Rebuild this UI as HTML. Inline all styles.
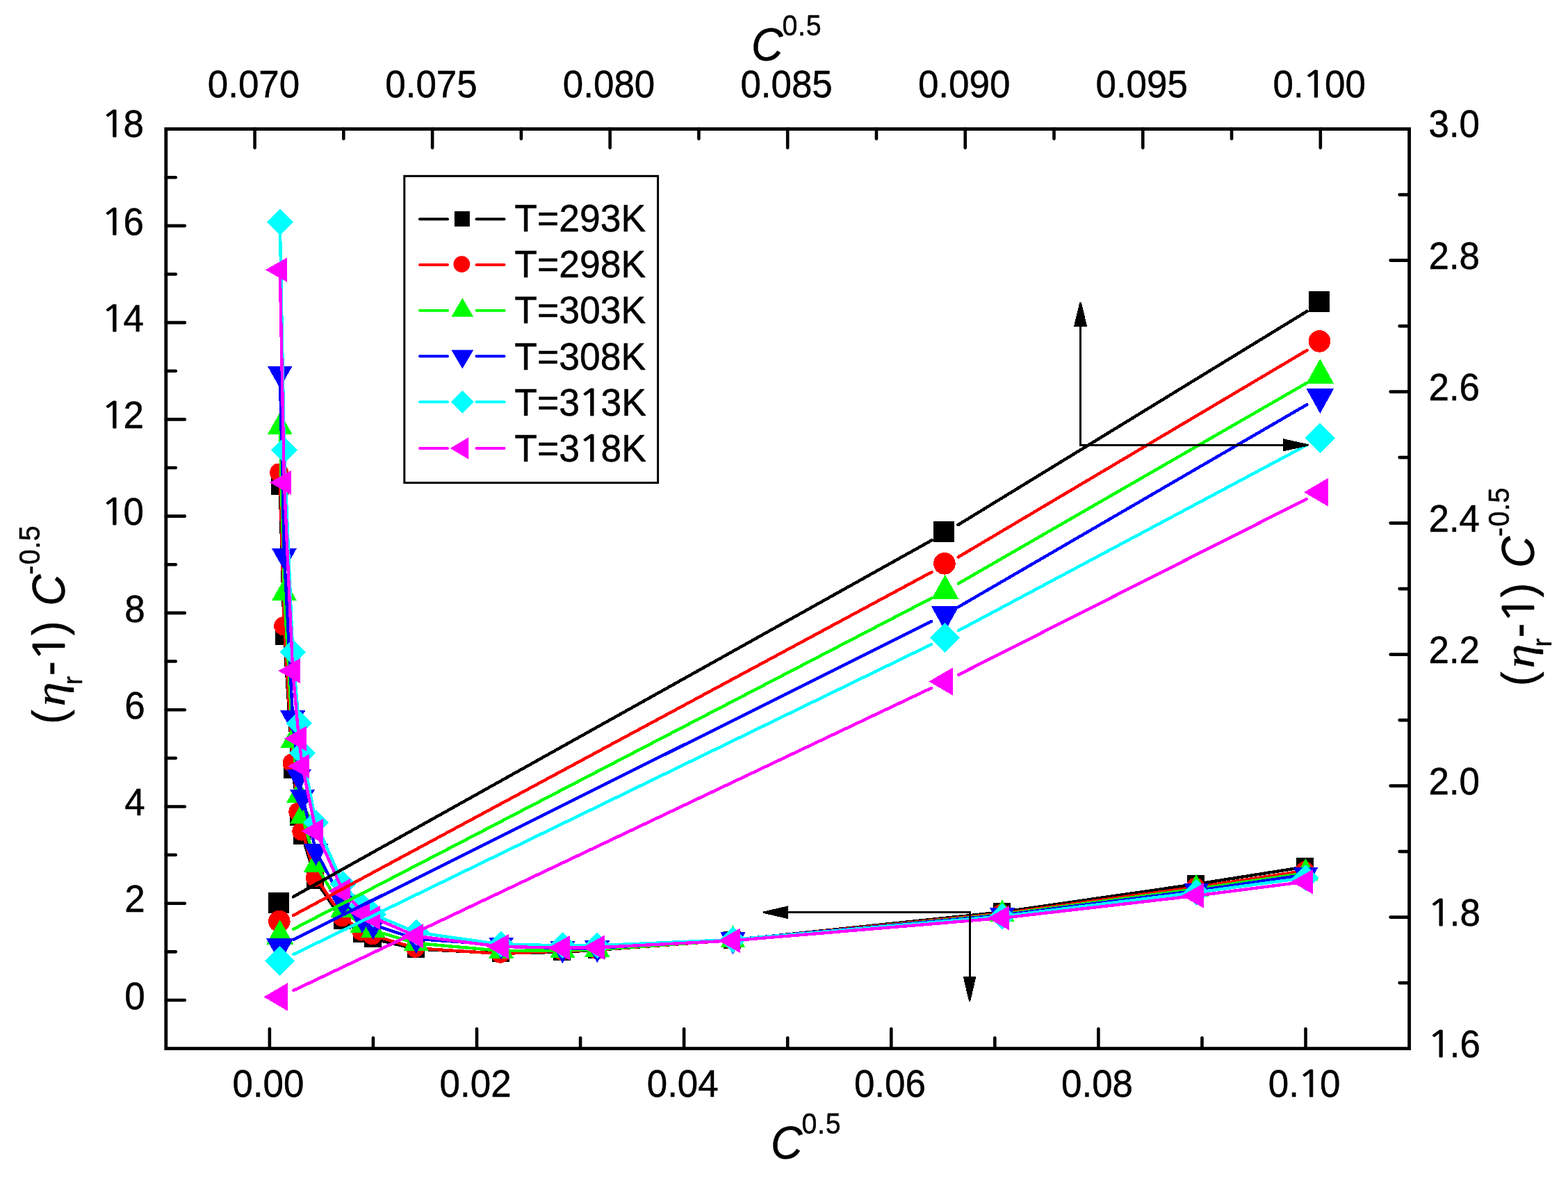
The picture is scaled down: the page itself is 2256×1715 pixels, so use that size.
<!DOCTYPE html>
<html lang="en"><head><meta charset="utf-8"><title>Reduced viscosity vs concentration</title>
<style>html,body{margin:0;padding:0;background:#fff}body{width:2256px;height:1715px;overflow:hidden}svg{display:block}text{font-family:"Liberation Sans",Arial,sans-serif;fill:#000;stroke:#000;stroke-width:.5px;stroke-linejoin:round}.tk{font-size:56px}.ti{font-size:67.3px}.su{font-size:42px;letter-spacing:.7px}.lg{font-size:56px}.o{font-family:"NanumGothic","Liberation Sans",sans-serif;font-size:.915em;stroke:#000;stroke-width:.9px}.sb{font-size:39px}.et{font-family:"Liberation Serif","DejaVu Serif",serif;font-style:italic;font-size:61px}</style></head><body>
<svg width="2256" height="1715" viewBox="0 0 2256 1715" role="img" aria-label="Reduced viscosity plot">
<rect x="0" y="0" width="2256" height="1715" fill="#fff"/>
<g id="layer1" stroke-linejoin="round" stroke-linecap="round" shape-rendering="crispEdges">
<polyline fill="none" stroke="#000000" stroke-width="4.4" points="402.77,700.2 408.95,915.83 421.2,1108.1 430.03,1176.3 435.01,1202.7 454.53,1267.3 493.27,1324.4 521.2,1343.5 536.93,1350.8 598.68,1365.4 721.19,1371.6 809.49,1369.8 859.26,1366.8 1054.51,1352.63 1441.93,1312.26 1721.16,1272 1878.53,1247.2"/>
<rect x="389.67" y="687.3" width="25" height="25" fill="#000000"/>
<rect x="395.85" y="902.93" width="25" height="25" fill="#000000"/>
<rect x="408.1" y="1095.2" width="25" height="25" fill="#000000"/>
<rect x="416.93" y="1163.4" width="25" height="25" fill="#000000"/>
<rect x="421.91" y="1189.8" width="25" height="25" fill="#000000"/>
<rect x="441.43" y="1254.4" width="25" height="25" fill="#000000"/>
<rect x="480.17" y="1311.5" width="25" height="25" fill="#000000"/>
<rect x="508.1" y="1330.6" width="25" height="25" fill="#000000"/>
<rect x="523.83" y="1337.9" width="25" height="25" fill="#000000"/>
<rect x="585.58" y="1352.5" width="25" height="25" fill="#000000"/>
<rect x="708.09" y="1358.7" width="25" height="25" fill="#000000"/>
<rect x="796.39" y="1356.9" width="25" height="25" fill="#000000"/>
<rect x="846.16" y="1353.9" width="25" height="25" fill="#000000"/>
<rect x="1041.41" y="1339.73" width="25" height="25" fill="#000000"/>
<rect x="1428.83" y="1299.36" width="25" height="25" fill="#000000"/>
<rect x="1708.06" y="1259.1" width="25" height="25" fill="#000000"/>
<rect x="1865.43" y="1234.3" width="25" height="25" fill="#000000"/>
<polyline fill="none" stroke="#ff0000" stroke-width="4.4" points="402.77,680 408.95,900.81 421.2,1097.8 430.03,1168 435.01,1196.1 454.53,1262.7 493.27,1319.8 521.2,1340.1 536.93,1346 598.68,1364.2 721.19,1372.2 809.49,1368.3 859.26,1366.5 1054.51,1352.63 1441.93,1314.21 1721.16,1276.28 1878.53,1252.71"/>
<circle cx="401.57" cy="680" r="13.5" fill="#ff0000"/>
<circle cx="407.75" cy="900.81" r="13.5" fill="#ff0000"/>
<circle cx="420" cy="1097.8" r="13.5" fill="#ff0000"/>
<circle cx="428.83" cy="1168" r="13.5" fill="#ff0000"/>
<circle cx="433.81" cy="1196.1" r="13.5" fill="#ff0000"/>
<circle cx="453.33" cy="1262.7" r="13.5" fill="#ff0000"/>
<circle cx="492.07" cy="1319.8" r="13.5" fill="#ff0000"/>
<circle cx="520" cy="1340.1" r="13.5" fill="#ff0000"/>
<circle cx="535.73" cy="1346" r="13.5" fill="#ff0000"/>
<circle cx="597.48" cy="1364.2" r="13.5" fill="#ff0000"/>
<circle cx="719.99" cy="1372.2" r="13.5" fill="#ff0000"/>
<circle cx="808.29" cy="1368.3" r="13.5" fill="#ff0000"/>
<circle cx="858.06" cy="1366.5" r="13.5" fill="#ff0000"/>
<circle cx="1053.31" cy="1352.63" r="13.5" fill="#ff0000"/>
<circle cx="1440.73" cy="1314.21" r="13.5" fill="#ff0000"/>
<circle cx="1719.96" cy="1276.28" r="13.5" fill="#ff0000"/>
<circle cx="1877.33" cy="1252.71" r="13.5" fill="#ff0000"/>
<polyline fill="none" stroke="#00ff00" stroke-width="4.4" points="402.77,614.5 408.95,853.4 421.2,1065.8 430.03,1144.12 435.01,1174.53 454.53,1244.4 493.27,1309.3 521.2,1331.8 536.93,1338.8 598.68,1357 721.19,1368 809.49,1367.25 859.26,1365.99 1054.51,1352.63 1441.93,1315.64 1721.16,1279.07 1878.53,1256.19"/>
<polygon points="402.77,593.17 420.77,625.17 384.77,625.17" fill="#00ff00"/>
<polygon points="408.95,832.07 426.95,864.07 390.95,864.07" fill="#00ff00"/>
<polygon points="421.2,1044.47 439.2,1076.47 403.2,1076.47" fill="#00ff00"/>
<polygon points="430.03,1122.79 448.03,1154.79 412.03,1154.79" fill="#00ff00"/>
<polygon points="435.01,1153.2 453.01,1185.2 417.01,1185.2" fill="#00ff00"/>
<polygon points="454.53,1223.06 472.53,1255.06 436.53,1255.06" fill="#00ff00"/>
<polygon points="493.27,1287.97 511.27,1319.97 475.27,1319.97" fill="#00ff00"/>
<polygon points="521.2,1310.47 539.2,1342.47 503.2,1342.47" fill="#00ff00"/>
<polygon points="536.93,1317.47 554.93,1349.47 518.93,1349.47" fill="#00ff00"/>
<polygon points="598.68,1335.66 616.68,1367.66 580.68,1367.66" fill="#00ff00"/>
<polygon points="721.19,1346.67 739.19,1378.67 703.19,1378.67" fill="#00ff00"/>
<polygon points="809.49,1345.91 827.49,1377.91 791.49,1377.91" fill="#00ff00"/>
<polygon points="859.26,1344.66 877.26,1376.66 841.26,1376.66" fill="#00ff00"/>
<polygon points="1054.51,1331.29 1072.51,1363.29 1036.51,1363.29" fill="#00ff00"/>
<polygon points="1441.93,1294.31 1459.93,1326.31 1423.93,1326.31" fill="#00ff00"/>
<polygon points="1721.16,1257.73 1739.16,1289.73 1703.16,1289.73" fill="#00ff00"/>
<polygon points="1878.53,1234.85 1896.53,1266.85 1860.53,1266.85" fill="#00ff00"/>
<polyline fill="none" stroke="#0000ff" stroke-width="4.4" points="402.77,537.24 408.95,799.6 421.2,1033 430.03,1117.39 435.01,1146.6 454.53,1224.4 493.27,1297.7 521.2,1321.5 536.93,1330.5 598.68,1350.8 721.19,1359.4 809.49,1364.95 859.26,1364.04 1054.51,1351.93 1441.93,1316.74 1721.16,1281.56 1878.53,1258.48"/>
<polygon points="402.77,558.57 420.77,526.57 384.77,526.57" fill="#0000ff"/>
<polygon points="408.95,820.93 426.95,788.93 390.95,788.93" fill="#0000ff"/>
<polygon points="421.2,1054.34 439.2,1022.34 403.2,1022.34" fill="#0000ff"/>
<polygon points="430.03,1138.72 448.03,1106.72 412.03,1106.72" fill="#0000ff"/>
<polygon points="435.01,1167.93 453.01,1135.93 417.01,1135.93" fill="#0000ff"/>
<polygon points="454.53,1245.73 472.53,1213.73 436.53,1213.73" fill="#0000ff"/>
<polygon points="493.27,1319.03 511.27,1287.03 475.27,1287.03" fill="#0000ff"/>
<polygon points="521.2,1342.83 539.2,1310.83 503.2,1310.83" fill="#0000ff"/>
<polygon points="536.93,1351.84 554.93,1319.84 518.93,1319.84" fill="#0000ff"/>
<polygon points="598.68,1372.13 616.68,1340.13 580.68,1340.13" fill="#0000ff"/>
<polygon points="721.19,1380.73 739.19,1348.73 703.19,1348.73" fill="#0000ff"/>
<polygon points="809.49,1386.28 827.49,1354.28 791.49,1354.28" fill="#0000ff"/>
<polygon points="859.26,1385.38 877.26,1353.38 841.26,1353.38" fill="#0000ff"/>
<polygon points="1054.51,1373.26 1072.51,1341.26 1036.51,1341.26" fill="#0000ff"/>
<polygon points="1441.93,1338.07 1459.93,1306.07 1423.93,1306.07" fill="#0000ff"/>
<polygon points="1721.16,1302.89 1739.16,1270.89 1703.16,1270.89" fill="#0000ff"/>
<polygon points="1878.53,1279.82 1896.53,1247.82 1860.53,1247.82" fill="#0000ff"/>
<polyline fill="none" stroke="#00ffff" stroke-width="4.4" points="402.77,319.43 408.95,647.34 421.2,938.3 430.03,1040.89 435.01,1083.5 454.53,1183.5 493.27,1271.9 521.2,1303.7 536.93,1315.34 598.68,1341.48 721.19,1358.68 809.49,1360.28 859.26,1360.28 1054.51,1352 1441.93,1318.28 1721.16,1284 1878.53,1262.84"/>
<polygon points="402.77,300.53 421.67,319.43 402.77,338.33 383.87,319.43" fill="#00ffff"/>
<polygon points="408.95,628.44 427.85,647.34 408.95,666.24 390.05,647.34" fill="#00ffff"/>
<polygon points="421.2,919.4 440.1,938.3 421.2,957.2 402.3,938.3" fill="#00ffff"/>
<polygon points="430.03,1021.99 448.93,1040.89 430.03,1059.79 411.13,1040.89" fill="#00ffff"/>
<polygon points="435.01,1064.6 453.91,1083.5 435.01,1102.4 416.11,1083.5" fill="#00ffff"/>
<polygon points="454.53,1164.6 473.43,1183.5 454.53,1202.4 435.63,1183.5" fill="#00ffff"/>
<polygon points="493.27,1253 512.17,1271.9 493.27,1290.8 474.37,1271.9" fill="#00ffff"/>
<polygon points="521.2,1284.8 540.1,1303.7 521.2,1322.6 502.3,1303.7" fill="#00ffff"/>
<polygon points="536.93,1296.44 555.83,1315.34 536.93,1334.24 518.03,1315.34" fill="#00ffff"/>
<polygon points="598.68,1322.58 617.58,1341.48 598.68,1360.38 579.78,1341.48" fill="#00ffff"/>
<polygon points="721.19,1339.78 740.09,1358.68 721.19,1377.58 702.29,1358.68" fill="#00ffff"/>
<polygon points="809.49,1341.38 828.39,1360.28 809.49,1379.18 790.59,1360.28" fill="#00ffff"/>
<polygon points="859.26,1341.38 878.16,1360.28 859.26,1379.18 840.36,1360.28" fill="#00ffff"/>
<polygon points="1054.51,1333.1 1073.41,1352 1054.51,1370.9 1035.61,1352" fill="#00ffff"/>
<polygon points="1441.93,1299.38 1460.83,1318.28 1441.93,1337.18 1423.03,1318.28" fill="#00ffff"/>
<polygon points="1721.16,1265.1 1740.06,1284 1721.16,1302.9 1702.26,1284" fill="#00ffff"/>
<polygon points="1878.53,1243.94 1897.43,1262.84 1878.53,1281.74 1859.63,1262.84" fill="#00ffff"/>
<polyline fill="none" stroke="#ff00ff" stroke-width="4.4" points="402.77,388.23 408.95,694.3 421.2,965.2 430.03,1062.7 435.01,1102.4 454.53,1195.8 493.27,1282 521.2,1311.67 536.93,1320.3 598.68,1346.85 721.19,1361.96 809.49,1363.7 859.26,1363.28 1054.51,1353.3 1441.93,1320.8 1721.16,1288.65 1878.53,1268.58"/>
<polygon points="381.84,388.23 413.24,370.43 413.24,406.03" fill="#ff00ff"/>
<polygon points="388.01,694.3 419.41,676.5 419.41,712.1" fill="#ff00ff"/>
<polygon points="400.27,965.2 431.67,947.4 431.67,983" fill="#ff00ff"/>
<polygon points="409.1,1062.7 440.5,1044.9 440.5,1080.5" fill="#ff00ff"/>
<polygon points="414.07,1102.4 445.47,1084.6 445.47,1120.2" fill="#ff00ff"/>
<polygon points="433.6,1195.8 465,1178 465,1213.6" fill="#ff00ff"/>
<polygon points="472.34,1282 503.74,1264.2 503.74,1299.8" fill="#ff00ff"/>
<polygon points="500.26,1311.67 531.66,1293.87 531.66,1329.47" fill="#ff00ff"/>
<polygon points="516,1320.3 547.4,1302.5 547.4,1338.1" fill="#ff00ff"/>
<polygon points="577.75,1346.85 609.15,1329.05 609.15,1364.65" fill="#ff00ff"/>
<polygon points="700.26,1361.96 731.66,1344.16 731.66,1379.76" fill="#ff00ff"/>
<polygon points="788.56,1363.7 819.96,1345.9 819.96,1381.5" fill="#ff00ff"/>
<polygon points="838.32,1363.28 869.72,1345.48 869.72,1381.08" fill="#ff00ff"/>
<polygon points="1033.58,1353.3 1064.98,1335.5 1064.98,1371.1" fill="#ff00ff"/>
<polygon points="1420.99,1320.8 1452.39,1303 1452.39,1338.6" fill="#ff00ff"/>
<polygon points="1700.23,1288.65 1731.63,1270.85 1731.63,1306.45" fill="#ff00ff"/>
<polygon points="1857.6,1268.58 1889,1250.78 1889,1286.38" fill="#ff00ff"/>
</g>
<g id="layer2" stroke-linecap="round" shape-rendering="crispEdges">
<line x1="421.91" y1="1290.26" x2="1340.59" y2="777.31" stroke="#000000" stroke-width="4.5"/>
<line x1="1378.56" y1="755.1" x2="1880.54" y2="447.8" stroke="#000000" stroke-width="4.5"/>
<rect x="386.2" y="1284.08" width="30" height="30" fill="#000000"/>
<rect x="1343.3" y="749.69" width="30" height="30" fill="#000000"/>
<rect x="1882.8" y="419.41" width="30" height="30" fill="#000000"/>
<line x1="422.08" y1="1317.02" x2="1340.42" y2="823.12" stroke="#ff0000" stroke-width="4.5"/>
<line x1="1378.72" y1="801.48" x2="1880.38" y2="504.04" stroke="#ff0000" stroke-width="4.5"/>
<circle cx="401.8" cy="1325.54" r="15.8" fill="#ff0000"/>
<circle cx="1358.9" cy="810.8" r="15.8" fill="#ff0000"/>
<circle cx="1898.4" cy="490.92" r="15.8" fill="#ff0000"/>
<line x1="422.23" y1="1336.78" x2="1340.27" y2="860.63" stroke="#00ff00" stroke-width="4.5"/>
<line x1="1378.87" y1="839.53" x2="1880.23" y2="550.95" stroke="#00ff00" stroke-width="4.5"/>
<polygon points="402.7,1323.18 422.5,1358.78 382.9,1358.78" fill="#00ff00"/>
<polygon points="1359.8,826.77 1379.6,862.37 1340,862.37" fill="#00ff00"/>
<polygon points="1899.3,516.24 1919.1,551.84 1879.5,551.84" fill="#00ff00"/>
<line x1="422.39" y1="1351.93" x2="1340.11" y2="894.15" stroke="#0000ff" stroke-width="4.5"/>
<line x1="1378.83" y1="873.29" x2="1880.27" y2="582.2" stroke="#0000ff" stroke-width="4.5"/>
<polygon points="402.7,1385.48 422.5,1349.88 382.9,1349.88" fill="#0000ff"/>
<polygon points="1359.8,908.07 1379.6,872.47 1340,872.47" fill="#0000ff"/>
<polygon points="1899.3,594.89 1919.1,559.29 1879.5,559.29" fill="#0000ff"/>
<line x1="422.49" y1="1373.02" x2="1340.01" y2="927.12" stroke="#00ffff" stroke-width="4.5"/>
<line x1="1379.22" y1="907.16" x2="1879.88" y2="640.56" stroke="#00ffff" stroke-width="4.5"/>
<polygon points="402.7,1361.03 424.3,1382.63 402.7,1404.23 381.1,1382.63" fill="#00ffff"/>
<polygon points="1359.8,895.9 1381.4,917.5 1359.8,939.1 1338.2,917.5" fill="#00ffff"/>
<polygon points="1899.3,608.62 1920.9,630.22 1899.3,651.82 1877.7,630.22" fill="#00ffff"/>
<line x1="422.58" y1="1424.9" x2="1339.92" y2="989.96" stroke="#ff00ff" stroke-width="4.5"/>
<line x1="1379.44" y1="970.62" x2="1879.66" y2="718.1" stroke="#ff00ff" stroke-width="4.5"/>
<polygon points="379.37,1434.32 414.37,1413.87 414.37,1454.77" fill="#ff00ff"/>
<polygon points="1336.47,980.53 1371.47,960.08 1371.47,1000.98" fill="#ff00ff"/>
<polygon points="1875.97,708.18 1910.97,687.73 1910.97,728.63" fill="#ff00ff"/>
</g>
<g id="arrows" stroke="#000" stroke-width="3" fill="#000" shape-rendering="crispEdges">
<polyline fill="none" points="1554.6,466 1554.6,640.3 1850,640.3"/>
<polygon stroke="none" points="1553.4,434.6 1555.8,434.6 1564.2,469.8 1545,469.8"/>
<polygon stroke="none" points="1883,639.3 1883,641.3 1845.5,649.6 1845.5,631"/>
<polyline fill="none" points="1130,1312.7 1395.1,1312.7 1395.1,1408"/>
<polygon stroke="none" points="1097.5,1311.7 1097.5,1313.7 1133.6,1322 1133.6,1303.4"/>
<polygon stroke="none" points="1394.1,1441 1396.1,1441 1404.5,1404.8 1385.7,1404.8"/>
</g>
<g id="axes" stroke="#000" fill="none">
<rect x="238.8" y="185.6" width="1788.8" height="1323" stroke-width="4.8"/>
<g stroke-width="4.6" stroke-linecap="round">
<line x1="387.87" y1="1508.6" x2="387.87" y2="1480.3"/>
<line x1="536.93" y1="1508.6" x2="536.93" y2="1493.3"/>
<line x1="686" y1="1508.6" x2="686" y2="1480.3"/>
<line x1="835.07" y1="1508.6" x2="835.07" y2="1493.3"/>
<line x1="984.13" y1="1508.6" x2="984.13" y2="1480.3"/>
<line x1="1133.2" y1="1508.6" x2="1133.2" y2="1493.3"/>
<line x1="1282.27" y1="1508.6" x2="1282.27" y2="1480.3"/>
<line x1="1431.33" y1="1508.6" x2="1431.33" y2="1493.3"/>
<line x1="1580.4" y1="1508.6" x2="1580.4" y2="1480.3"/>
<line x1="1729.47" y1="1508.6" x2="1729.47" y2="1493.3"/>
<line x1="1878.53" y1="1508.6" x2="1878.53" y2="1480.3"/>
<line x1="366.57" y1="185.6" x2="366.57" y2="212.6"/>
<line x1="494.34" y1="185.6" x2="494.34" y2="199.6"/>
<line x1="622.11" y1="185.6" x2="622.11" y2="212.6"/>
<line x1="749.89" y1="185.6" x2="749.89" y2="199.6"/>
<line x1="877.66" y1="185.6" x2="877.66" y2="212.6"/>
<line x1="1005.43" y1="185.6" x2="1005.43" y2="199.6"/>
<line x1="1133.2" y1="185.6" x2="1133.2" y2="212.6"/>
<line x1="1260.97" y1="185.6" x2="1260.97" y2="199.6"/>
<line x1="1388.74" y1="185.6" x2="1388.74" y2="212.6"/>
<line x1="1516.51" y1="185.6" x2="1516.51" y2="199.6"/>
<line x1="1644.29" y1="185.6" x2="1644.29" y2="212.6"/>
<line x1="1772.06" y1="185.6" x2="1772.06" y2="199.6"/>
<line x1="1899.83" y1="185.6" x2="1899.83" y2="212.6"/>
<line x1="238.8" y1="1438.97" x2="265.8" y2="1438.97"/>
<line x1="238.8" y1="1369.34" x2="252.8" y2="1369.34"/>
<line x1="238.8" y1="1299.71" x2="265.8" y2="1299.71"/>
<line x1="238.8" y1="1230.07" x2="252.8" y2="1230.07"/>
<line x1="238.8" y1="1160.44" x2="265.8" y2="1160.44"/>
<line x1="238.8" y1="1090.81" x2="252.8" y2="1090.81"/>
<line x1="238.8" y1="1021.18" x2="265.8" y2="1021.18"/>
<line x1="238.8" y1="951.55" x2="252.8" y2="951.55"/>
<line x1="238.8" y1="881.92" x2="265.8" y2="881.92"/>
<line x1="238.8" y1="812.28" x2="252.8" y2="812.28"/>
<line x1="238.8" y1="742.65" x2="265.8" y2="742.65"/>
<line x1="238.8" y1="673.02" x2="252.8" y2="673.02"/>
<line x1="238.8" y1="603.39" x2="265.8" y2="603.39"/>
<line x1="238.8" y1="533.76" x2="252.8" y2="533.76"/>
<line x1="238.8" y1="464.13" x2="265.8" y2="464.13"/>
<line x1="238.8" y1="394.49" x2="252.8" y2="394.49"/>
<line x1="238.8" y1="324.86" x2="265.8" y2="324.86"/>
<line x1="238.8" y1="255.23" x2="252.8" y2="255.23"/>
<line x1="2027.6" y1="1414.1" x2="2013.6" y2="1414.1"/>
<line x1="2027.6" y1="1319.6" x2="2000.6" y2="1319.6"/>
<line x1="2027.6" y1="1225.1" x2="2013.6" y2="1225.1"/>
<line x1="2027.6" y1="1130.6" x2="2000.6" y2="1130.6"/>
<line x1="2027.6" y1="1036.1" x2="2013.6" y2="1036.1"/>
<line x1="2027.6" y1="941.6" x2="2000.6" y2="941.6"/>
<line x1="2027.6" y1="847.1" x2="2013.6" y2="847.1"/>
<line x1="2027.6" y1="752.6" x2="2000.6" y2="752.6"/>
<line x1="2027.6" y1="658.1" x2="2013.6" y2="658.1"/>
<line x1="2027.6" y1="563.6" x2="2000.6" y2="563.6"/>
<line x1="2027.6" y1="469.1" x2="2013.6" y2="469.1"/>
<line x1="2027.6" y1="374.6" x2="2000.6" y2="374.6"/>
<line x1="2027.6" y1="280.1" x2="2013.6" y2="280.1"/>
</g></g>
<g id="ticklabels" class="tk">
<text transform="translate(385.97,1577.5) scale(0.945,1)" text-anchor="middle">0.00</text>
<text transform="translate(684.1,1577.5) scale(0.945,1)" text-anchor="middle">0.02</text>
<text transform="translate(982.23,1577.5) scale(0.945,1)" text-anchor="middle">0.04</text>
<text transform="translate(1280.37,1577.5) scale(0.945,1)" text-anchor="middle">0.06</text>
<text transform="translate(1578.5,1577.5) scale(0.945,1)" text-anchor="middle">0.08</text>
<text transform="translate(1876.63,1577.5) scale(0.945,1)" text-anchor="middle">0.<tspan class="o" dx="-2.9" textLength="39.1" lengthAdjust="spacingAndGlyphs">1</tspan><tspan dx="-4.2">0</tspan></text>
<text transform="translate(364.97,140.4) scale(0.945,1)" text-anchor="middle">0.070</text>
<text transform="translate(620.51,140.4) scale(0.945,1)" text-anchor="middle">0.075</text>
<text transform="translate(876.06,140.4) scale(0.945,1)" text-anchor="middle">0.080</text>
<text transform="translate(1131.6,140.4) scale(0.945,1)" text-anchor="middle">0.085</text>
<text transform="translate(1387.14,140.4) scale(0.945,1)" text-anchor="middle">0.090</text>
<text transform="translate(1642.69,140.4) scale(0.945,1)" text-anchor="middle">0.095</text>
<text transform="translate(1898.23,140.4) scale(0.945,1)" text-anchor="middle">0.<tspan class="o" dx="-2.9" textLength="39.1" lengthAdjust="spacingAndGlyphs">1</tspan><tspan dx="-4.2">0</tspan>0</text>
<text transform="translate(208.6,1451.67) scale(0.945,1)" text-anchor="end">0</text>
<text transform="translate(208.6,1312.41) scale(0.945,1)" text-anchor="end">2</text>
<text transform="translate(208.6,1173.14) scale(0.945,1)" text-anchor="end">4</text>
<text transform="translate(208.6,1033.88) scale(0.945,1)" text-anchor="end">6</text>
<text transform="translate(208.6,894.62) scale(0.945,1)" text-anchor="end">8</text>
<text transform="translate(147.3,755.35) scale(0.945,1)"><tspan class="o" dx="-2.9" textLength="39.1" lengthAdjust="spacingAndGlyphs">1</tspan><tspan dx="-4.2">0</tspan></text>
<text transform="translate(147.3,616.09) scale(0.945,1)"><tspan class="o" dx="-2.9" textLength="39.1" lengthAdjust="spacingAndGlyphs">1</tspan><tspan dx="-4.2">2</tspan></text>
<text transform="translate(147.3,476.83) scale(0.945,1)"><tspan class="o" dx="-2.9" textLength="39.1" lengthAdjust="spacingAndGlyphs">1</tspan><tspan dx="-4.2">4</tspan></text>
<text transform="translate(147.3,337.56) scale(0.945,1)"><tspan class="o" dx="-2.9" textLength="39.1" lengthAdjust="spacingAndGlyphs">1</tspan><tspan dx="-4.2">6</tspan></text>
<text transform="translate(147.3,196.5) scale(0.945,1)"><tspan class="o" dx="-2.9" textLength="39.1" lengthAdjust="spacingAndGlyphs">1</tspan><tspan dx="-4.2">8</tspan></text>
<text transform="translate(2055.5,1521.3) scale(0.945,1)"><tspan class="o" dx="-2.9" textLength="39.1" lengthAdjust="spacingAndGlyphs">1</tspan><tspan dx="-4.2">.</tspan>6</text>
<text transform="translate(2055.5,1332.3) scale(0.945,1)"><tspan class="o" dx="-2.9" textLength="39.1" lengthAdjust="spacingAndGlyphs">1</tspan><tspan dx="-4.2">.</tspan>8</text>
<text transform="translate(2055.5,1143.3) scale(0.945,1)">2.0</text>
<text transform="translate(2055.5,954.3) scale(0.945,1)">2.2</text>
<text transform="translate(2055.5,765.3) scale(0.945,1)">2.4</text>
<text transform="translate(2055.5,576.3) scale(0.945,1)">2.6</text>
<text transform="translate(2055.5,387.3) scale(0.945,1)">2.8</text>
<text transform="translate(2055.5,196.6) scale(0.945,1)">3.0</text>
</g>
<g id="titles">
<text class="ti" transform="translate(1081,87.4) scale(0.937,1)"><tspan font-style="italic">C</tspan><tspan class="su" dx="-1" dy="-36.2">0.5</tspan></text>
<text class="ti" transform="translate(1109,1666.7) scale(0.937,1)"><tspan font-style="italic">C</tspan><tspan class="su" dx="-1" dy="-36.2">0.5</tspan></text>
<text class="ti" transform="translate(92.9,1040) rotate(-90) scale(0.937,1)"><tspan x="-2.13">(</tspan><tspan x="25.29" class="et" textLength="37.2" lengthAdjust="spacingAndGlyphs">η</tspan><tspan x="58.59" class="sb" dy="25">r</tspan><tspan x="72.41" dy="-25">-</tspan><tspan x="92.64" class="o" textLength="47" lengthAdjust="spacingAndGlyphs">1</tspan><tspan x="134.2">) </tspan><tspan x="179.67" font-style="italic">C</tspan><tspan x="227.69" class="su" dy="-36.2">-</tspan><tspan x="243.06" class="su">0.5</tspan></text>
<text class="ti" transform="translate(2207.3,985.3) rotate(-90) scale(0.937,1)"><tspan x="-2.13">(</tspan><tspan x="25.29" class="et" textLength="37.2" lengthAdjust="spacingAndGlyphs">η</tspan><tspan x="58.59" class="sb" dy="25">r</tspan><tspan x="72.41" dy="-25">-</tspan><tspan x="92.64" class="o" textLength="47" lengthAdjust="spacingAndGlyphs">1</tspan><tspan x="134.2">) </tspan><tspan x="179.67" font-style="italic">C</tspan><tspan x="227.69" class="su" dy="-36.2">-</tspan><tspan x="243.06" class="su">0.5</tspan></text>
</g>
<g id="legend">
<rect x="581.8" y="253.3" width="364.8" height="441.3" fill="#fff" stroke="#000" stroke-width="3"/>
<g stroke="#000000" stroke-width="4" stroke-linecap="round"><line x1="604" y1="315.2" x2="644" y2="315.2"/><line x1="685.5" y1="315.2" x2="725.5" y2="315.2"/></g>
<rect x="653.9" y="303.9" width="22" height="22" fill="#000000"/>
<text transform="translate(740.3,333.2) scale(0.955,1)" class="lg">T=293K</text>
<g stroke="#ff0000" stroke-width="4" stroke-linecap="round"><line x1="604" y1="381" x2="644" y2="381"/><line x1="685.5" y1="381" x2="725.5" y2="381"/></g>
<circle cx="664.3" cy="380.1" r="11.9" fill="#ff0000"/>
<text transform="translate(740.3,399.3) scale(0.955,1)" class="lg">T=298K</text>
<g stroke="#00ff00" stroke-width="4" stroke-linecap="round"><line x1="604" y1="446.7" x2="644" y2="446.7"/><line x1="685.5" y1="446.7" x2="725.5" y2="446.7"/></g>
<polygon points="665.3,428.7 681.2,455.7 649.4,455.7" fill="#00ff00"/>
<text transform="translate(740.3,465.4) scale(0.955,1)" class="lg">T=303K</text>
<g stroke="#0000ff" stroke-width="4" stroke-linecap="round"><line x1="604" y1="512.6" x2="644" y2="512.6"/><line x1="685.5" y1="512.6" x2="725.5" y2="512.6"/></g>
<polygon points="665.3,530.6 681.2,503.6 649.4,503.6" fill="#0000ff"/>
<text transform="translate(740.3,531.5) scale(0.955,1)" class="lg">T=308K</text>
<g stroke="#00ffff" stroke-width="4" stroke-linecap="round"><line x1="604" y1="578.3" x2="644" y2="578.3"/><line x1="685.5" y1="578.3" x2="725.5" y2="578.3"/></g>
<polygon points="665.3,561.8 681.8,578.3 665.3,594.8 648.8,578.3" fill="#00ffff"/>
<text transform="translate(740.3,597.6) scale(0.955,1)" class="lg">T=3<tspan class="o" dx="-2.9" textLength="39.1" lengthAdjust="spacingAndGlyphs">1</tspan><tspan dx="-4.2">3</tspan>K</text>
<g stroke="#ff00ff" stroke-width="4" stroke-linecap="round"><line x1="604" y1="645" x2="644" y2="645"/><line x1="685.5" y1="645" x2="725.5" y2="645"/></g>
<polygon points="647.57,645 674.17,629.35 674.17,660.65" fill="#ff00ff"/>
<text transform="translate(740.3,663.7) scale(0.955,1)" class="lg">T=3<tspan class="o" dx="-2.9" textLength="39.1" lengthAdjust="spacingAndGlyphs">1</tspan><tspan dx="-4.2">8</tspan>K</text>
</g>
</svg></body></html>
